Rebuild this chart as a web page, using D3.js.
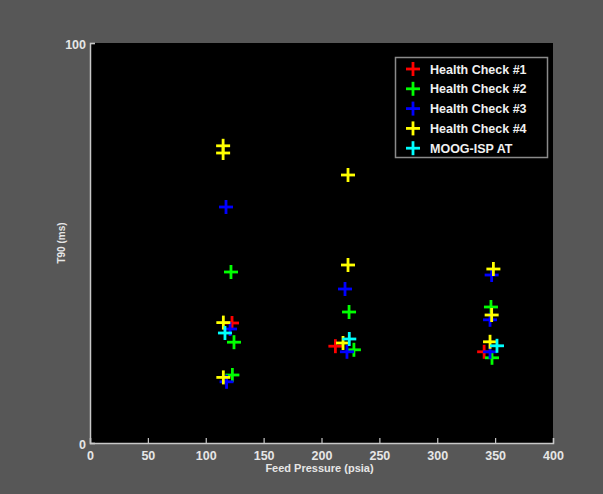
<!DOCTYPE html>
<html><head><meta charset="utf-8">
<script src="https://cdn.jsdelivr.net/npm/d3@7/dist/d3.min.js"></script>
<style>html,body{margin:0;padding:0;background:#575757;}svg{display:block;}</style>
</head><body>
<svg id="c" width="603" height="494"></svg>
<script>
const seriesNames = ["Health Check #1","Health Check #2","Health Check #3","Health Check #4","MOOG-ISP AT"];
const seriesColors = ["#ff0000","#00ff00","#0000ff","#ffff00","#00ffff"];
const hc1X = [122.7, 212, 340.5];
const hc1Y = [30, 24.2, 22.8];
const hc2X = [121.8, 124.4, 123, 223.8, 228, 346.4, 347.3];
const hc2Y = [42.75, 25.2, 17, 32.75, 23.3, 34, 21.3];
const hc3X = [117.5, 121, 118, 220.3, 222, 347, 345.6, 345.6];
const hc3Y = [59, 28.5, 15.3, 38.5, 22.8, 42, 30.8, 22.8];
const hc4X = [115, 115, 115.2, 115.2, 222.9, 222.9, 218.6, 348.5, 347, 345.6];
const hc4Y = [74.3, 72.5, 30.1, 16.4, 67, 44.5, 25, 43.5, 32, 25.3];
const moogX = [116.6, 224, 351.6];
const moogY = [27.5, 26, 24.3];
const xTicks = [0,50,100,150,200,250,300,350,400];
const yTicks = [0,100];

const seriesX = [hc1X, hc2X, hc3X, hc4X, moogX];
const seriesY = [hc1Y, hc2Y, hc3Y, hc4Y, moogY];

const svg = d3.select("#c");
const L = 90, R = 553, T = 43, B = 443;
const x = d3.scaleLinear().domain([0,400]).range([L,R]);
const y = d3.scaleLinear().domain([0,100]).range([B,T]);

svg.append("rect").attr("width",603).attr("height",494).attr("fill","#575757");
svg.append("rect").attr("x",L).attr("y",T).attr("width",R-L).attr("height",B-T).attr("fill","#000");

const axColor = "#c8c8c8";
const xa = svg.append("g").attr("transform",`translate(0,${B})`)
  .call(d3.axisBottom(x).tickValues(xTicks).tickSize(-5).tickPadding(8).tickFormat(d3.format("d")));
const ya = svg.append("g").attr("transform",`translate(${L},0)`)
  .call(d3.axisLeft(y).tickValues(yTicks).tickSize(-5).tickPadding(4).tickFormat(d3.format("d")));
[xa,ya].forEach(a=>{
  a.select(".domain").attr("stroke",axColor).attr("stroke-width",1.5);
  a.selectAll(".tick line").attr("stroke",axColor).attr("stroke-width",1.2);
  a.selectAll(".tick text").attr("fill","#e6e6e6").attr("font-family","Arial, 'Liberation Sans', sans-serif")
    .attr("font-weight","bold").attr("font-size","12.5px");
});
ya.selectAll(".tick text").attr("dy","0.45em");

svg.append("text").attr("x",(L+R)/2 - 2).attr("y",472).attr("text-anchor","middle")
  .attr("fill","#e6e6e6").attr("font-family","Arial, 'Liberation Sans', sans-serif")
  .attr("font-weight","bold").attr("font-size","11px").text("Feed Pressure (psia)");
svg.append("text").attr("transform",`translate(65,${(T+B)/2}) rotate(-90)`).attr("text-anchor","middle")
  .attr("fill","#e6e6e6").attr("font-family","Arial, 'Liberation Sans', sans-serif")
  .attr("font-weight","bold").attr("font-size","10px").text("T90 (ms)");

const half = 7;
function plus(g, cx, cy, color){
  g.append("line").attr("x1",cx-half).attr("x2",cx+half).attr("y1",cy).attr("y2",cy)
    .attr("stroke",color).attr("stroke-width",2.8);
  g.append("line").attr("x1",cx).attr("x2",cx).attr("y1",cy-half).attr("y2",cy+half)
    .attr("stroke",color).attr("stroke-width",2.8);
}
const pts = svg.append("g");
seriesNames.forEach((n,i)=>{
  const g = pts.append("g");
  seriesX[i].forEach((vx,j)=>plus(g, x(vx), y(seriesY[i][j]), seriesColors[i]));
});

// legend
const lg = svg.append("g");
lg.append("rect").attr("x",395.5).attr("y",57.5).attr("width",152).attr("height",100)
  .attr("fill","#000").attr("stroke","#8a8a8a").attr("stroke-width",1.5);
seriesNames.forEach((n,i)=>{
  const cy = 69 + i*19.8;
  plus(lg, 413, cy, seriesColors[i]);
  lg.append("text").attr("x",430).attr("y",cy+4.5).attr("fill","#f0f0f0")
    .attr("font-family","Arial, 'Liberation Sans', sans-serif").attr("font-weight","bold")
    .attr("font-size","12.5px").text(n);
});
</script>
</body></html>
